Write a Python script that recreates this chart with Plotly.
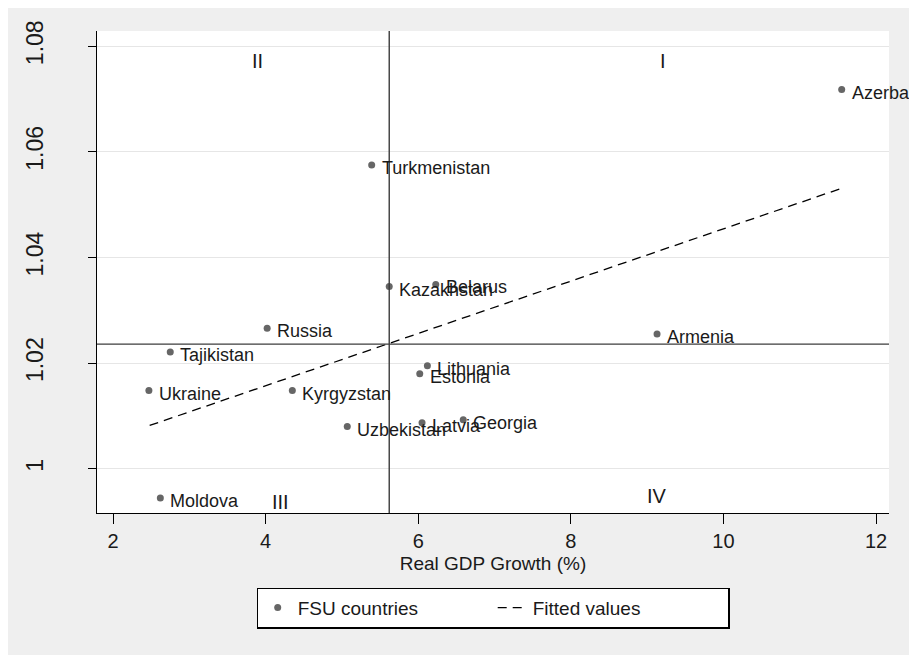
import plotly.graph_objects as go

countries = ["Azerbaijan", "Turkmenistan", "Kazakhstan", "Belarus", "Russia",
             "Tajikistan", "Ukraine", "Kyrgyzstan", "Uzbekistan", "Lithuania",
             "Estonia", "Latvia", "Georgia", "Armenia", "Moldova"]
gdp_growth = [11.55, 5.39, 5.62, 6.23, 4.02, 2.75, 2.47, 4.35, 5.07, 6.12,
              6.02, 6.05, 6.59, 9.13, 2.62]
y_values = [1.0718, 1.0575, 1.0345, 1.0349, 1.0266, 1.0221, 1.0148, 1.0148,
            1.0080, 1.0195, 1.0180, 1.0087, 1.0093, 1.0255, 0.99445]

fit_x = [2.48, 11.59]
fit_y = [1.0082, 1.0533]

mean_x = 5.62
mean_y = 1.0236

quad_labels = ["II", "I", "III", "IV"]
quad_x = [3.90, 9.21, 4.19, 9.13]
quad_y = [1.0772, 1.0772, 0.9937, 0.9948]

y_ticks = [1.00, 1.02, 1.04, 1.06, 1.08]
y_ticktext = ["1", "1.02", "1.04", "1.06", "1.08"]
x_ticks = [2, 4, 6, 8, 10, 12]

FONT = "Liberation Sans, Arial, sans-serif"

fig = go.Figure()
fig.add_trace(go.Scatter(
    x=gdp_growth, y=y_values, mode="markers", cliponaxis=False,
    marker=dict(color="#666666", size=7),
    name="FSU countries"))
fig.add_trace(go.Scatter(
    x=fit_x, y=fit_y, mode="lines",
    line=dict(color="black", width=1.3, dash="9px,6px"),
    name="Fitted values"))

shapes = [
    dict(type="line", xref="x", yref="paper", x0=mean_x, x1=mean_x, y0=0, y1=1,
         line=dict(color="#3c3c3c", width=1.4)),
    dict(type="line", xref="paper", yref="y", x0=0, x1=1, y0=mean_y, y1=mean_y,
         line=dict(color="#3c3c3c", width=1.4)),
]

annotations = [
    dict(x=qx, y=qy, xref="x", yref="y", text=t, showarrow=False,
         font=dict(family=FONT, size=20, color="#1a1a1a"))
    for t, qx, qy in zip(quad_labels, quad_x, quad_y)
]
annotations += [
    dict(x=cx, y=cy, xref="x", yref="y", text=name, showarrow=False,
         xanchor="left", yanchor="middle", xshift=8, yshift=-3,
         font=dict(family=FONT, size=18, color="#1a1a1a"))
    for name, cx, cy in zip(countries, gdp_growth, y_values)
]

fig.update_layout(
    width=909, height=647,
    margin=dict(l=89, r=28, t=20, b=142),
    paper_bgcolor="#EFEFEF", plot_bgcolor="white",
    font=dict(family=FONT, size=19, color="#1a1a1a"),
    shapes=shapes, annotations=annotations,
    showlegend=True,
    legend=dict(orientation="h", x=0.5, xanchor="center", y=-0.1546, yanchor="top",
                bgcolor="white", bordercolor="black", borderwidth=1.2,
                font=dict(family=FONT, size=19), entrywidth=190,
                entrywidthmode="pixels"),
    xaxis=dict(range=[1.79, 12.17], tickvals=x_ticks, showgrid=False,
               zeroline=False, showline=True, linecolor="black", linewidth=1.3,
               ticks="outside", ticklen=10, tickcolor="black", tickwidth=1.3,
               tickfont=dict(size=20),
               title=dict(text="Real GDP Growth (%)", standoff=5,
                          font=dict(size=19))),
    yaxis=dict(range=[0.99163, 1.08288], tickvals=y_ticks, ticktext=y_ticktext,
               tickangle=-90, showgrid=True, gridcolor="#E6E6E6", gridwidth=1.2,
               zeroline=False, showline=True, linecolor="black", linewidth=1.3,
               ticks="outside", ticklen=8, tickcolor="black", tickwidth=1.3,
               tickfont=dict(size=23), ticklabelstandoff=36),
)

fig.write_html("out.html")
